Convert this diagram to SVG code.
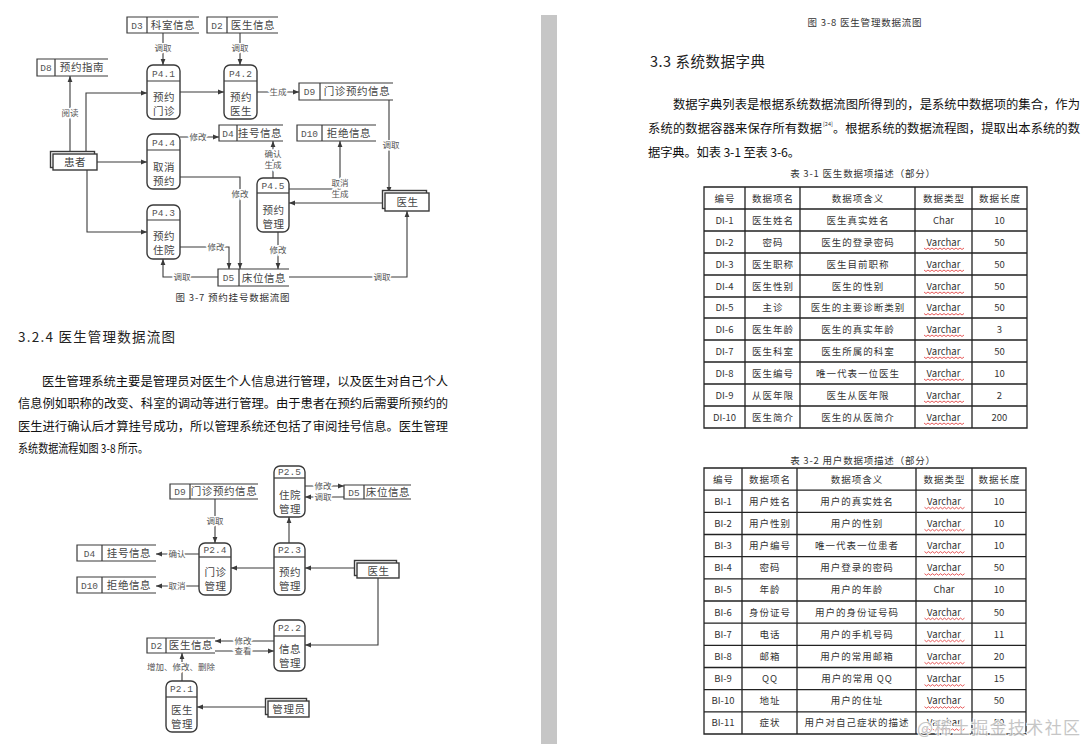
<svg xmlns="http://www.w3.org/2000/svg" width="1086" height="744" viewBox="0 0 1086 744">
<style>
text{font-family:"Noto Sans CJK SC","Noto Sans",sans-serif}
.mono{font-family:"Liberation Mono","DejaVu Sans Mono",monospace}
.st{fill:none;stroke:#3a3a3a;stroke-width:1.2}
.pr{fill:#fff;stroke:#3a3a3a;stroke-width:1.4}
.dv{stroke:#3a3a3a;stroke-width:1.2}
.ar{fill:none;stroke:#3a3a3a;stroke-width:1.1;marker-end:url(#ah)}
.lb{font-size:8.5px;fill:#555;text-anchor:middle;stroke:#fff;stroke-width:3px;paint-order:stroke}
.nm{font-size:10.5px;fill:#444;text-anchor:middle;letter-spacing:0.6px}
.id{font-family:"Liberation Mono","DejaVu Sans Mono",monospace;font-size:9.5px;fill:#555;text-anchor:middle}
.cap{font-size:9.5px;fill:#333;text-anchor:middle;letter-spacing:0.8px}
.body{font-size:12.3px;fill:#111}
.hd{font-size:13.5px;fill:#222}
.grid{fill:none;stroke:#222;stroke-width:1.3}
.tc{font-size:9.5px;fill:#333;text-anchor:middle;letter-spacing:1px}
.tm{font-family:"Liberation Mono","DejaVu Sans Mono",monospace;font-size:9.5px;fill:#333;text-anchor:middle}
</style>
<defs>
<marker id="ah" viewBox="0 0 8 8" refX="8" refY="4" markerWidth="6" markerHeight="6" orient="auto" markerUnits="userSpaceOnUse"><path d="M0,0.8 L8,4 L0,7.2z" fill="#3a3a3a"/></marker>
<path id="wv" d="M0,0 l2,1.5 l2,-1.5 l2,1.5 l2,-1.5 l2,1.5 l2,-1.5 l2,1.5 l2,-1.5 l2,1.5 l2,-1.5 l2,1.5 l2,-1.5 l2,1.5 l2,-1.5 l2,1.5 l2,-1.5 l2,1.5 l2,-1.5 l2,1.5 l2,-1.5" fill="none" stroke="#e03030" stroke-width="0.8"/>
</defs>
<rect width="1086" height="744" fill="#fff"/>
<rect x="541" y="15" width="16" height="729" fill="#c6c6c6"/>

<!-- ========== Diagram 3-7 ========== -->
<g id="connectors-37">
<path class="ar" d="M163,33V65"/>
<path class="ar" d="M240,33V65"/>
<path class="ar" d="M180,92H224"/>
<path class="ar" d="M257,92H299"/>
<path class="ar" d="M389,100V193"/>
<path class="ar" d="M70,151V76"/>
<path class="ar" d="M86,151V93H147"/>
<path class="ar" d="M97,162H147"/>
<path class="ar" d="M87,170V232H147"/>
<path class="ar" d="M180,137H219"/>
<path class="ar" d="M180,177H240V269"/>
<path class="ar" d="M180,247H229V269"/>
<path class="ar" d="M218,277H163V259"/>
<path class="ar" d="M289,277H407V211"/>
<path class="ar" d="M273,178V141"/>
<path class="ar" d="M289,189H340V141"/>
<path class="ar" d="M278,232V269"/>
<path class="ar" d="M385,203H289"/>
<text class="lb" x="163" y="51">调取</text>
<text class="lb" x="240" y="51">调取</text>
<text class="lb" x="278" y="95">生成</text>
<text class="lb" x="391" y="148">调取</text>
<text class="lb" x="70" y="116">阅读</text>
<text class="lb" x="198" y="140">修改</text>
<text class="lb" x="240" y="197">修改</text>
<text class="lb" x="216" y="250">修改</text>
<text class="lb" x="182" y="280">调取</text>
<text class="lb" x="382" y="280">调取</text>
<text class="lb" x="273" y="157">确认</text>
<text class="lb" x="273" y="168">生成</text>
<text class="lb" x="340" y="186">取消</text>
<text class="lb" x="340" y="197">生成</text>
<text class="lb" x="278" y="253">修改</text>
</g>

<g id="D3-37"><path class="st" d="M199,17H127V33H199M147,17V33"/><text class="id" x="137" y="29">D3</text><text class="nm" x="173" y="29">科室信息</text></g>
<g id="D2-37"><path class="st" d="M278,17H207V33H278M227,17V33"/><text class="id" x="217" y="29">D2</text><text class="nm" x="253" y="29">医生信息</text></g>
<g id="D8-37"><path class="st" d="M108,59H37V76H108M55,59V76"/><text class="id" x="46" y="71">D8</text><text class="nm" x="82" y="71">预约指南</text></g>
<g id="D9-37"><path class="st" d="M393,83H299V100H393M320,83V100"/><text class="id" x="309.5" y="95">D9</text><text class="nm" x="357" y="95">门诊预约信息</text></g>
<g id="D4-37"><path class="st" d="M283,125H219V141H283M237,125V141"/><text class="id" x="228" y="137">D4</text><text class="nm" x="260" y="137">挂号信息</text></g>
<g id="D10-37"><path class="st" d="M376,125H297V141H376M322,125V141"/><text class="id" x="309.5" y="137">D10</text><text class="nm" x="349" y="137">拒绝信息</text></g>
<g id="D5-37"><path class="st" d="M289,269H218V286H289M239,269V286"/><text class="id" x="228.5" y="281">D5</text><text class="nm" x="264" y="282">床位信息</text></g>

<g id="P4.1"><rect class="pr" x="147" y="65" width="33" height="54" rx="6"/><line class="dv" x1="147" y1="81" x2="180" y2="81"/><text class="id" x="163.5" y="77">P4.1</text><text class="nm" x="164" y="101">预约</text><text class="nm" x="164" y="115">门诊</text></g>
<g id="P4.2"><rect class="pr" x="224" y="65" width="33" height="54" rx="6"/><line class="dv" x1="224" y1="81" x2="257" y2="81"/><text class="id" x="240.5" y="77">P4.2</text><text class="nm" x="241" y="101">预约</text><text class="nm" x="241" y="115">医生</text></g>
<g id="P4.4"><rect class="pr" x="147" y="134" width="33" height="55" rx="6"/><line class="dv" x1="147" y1="150" x2="180" y2="150"/><text class="id" x="163.5" y="146">P4.4</text><text class="nm" x="164" y="171">取消</text><text class="nm" x="164" y="185">预约</text></g>
<g id="P4.3"><rect class="pr" x="147" y="205" width="33" height="54" rx="6"/><line class="dv" x1="147" y1="220" x2="180" y2="220"/><text class="id" x="163.5" y="216">P4.3</text><text class="nm" x="164" y="240">预约</text><text class="nm" x="164" y="254">住院</text></g>
<g id="P4.5"><rect class="pr" x="257" y="178" width="32" height="54" rx="6"/><line class="dv" x1="257" y1="193" x2="289" y2="193"/><text class="id" x="273" y="189">P4.5</text><text class="nm" x="273.5" y="214">预约</text><text class="nm" x="273.5" y="228">管理</text></g>

<g id="patient-37"><rect class="pr" x="50.5" y="151.5" width="44" height="16"/><rect class="pr" x="53" y="154" width="44" height="16"/><text class="nm" x="75" y="166">患者</text></g>
<g id="doctor-37"><rect class="pr" x="382.5" y="190.5" width="44" height="18"/><rect class="pr" x="385" y="193" width="44" height="18"/><text class="nm" x="407.5" y="206">医生</text></g>

<text class="cap" x="233" y="301">图 3-7 预约挂号数据流图</text>

<!-- left page text -->
<text class="hd" x="18" y="342" textLength="157">3.2.4 医生管理数据流图</text>
<text class="body" x="42" y="386" textLength="406">医生管理系统主要是管理员对医生个人信息进行管理，以及医生对自己个人</text>
<text class="body" x="18" y="408" textLength="430">信息例如职称的改变、科室的调动等进行管理。由于患者在预约后需要所预约的</text>
<text class="body" x="18" y="431" textLength="430">医生进行确认后才算挂号成功，所以管理系统还包括了审阅挂号信息。医生管理</text>
<text class="body" x="18" y="453" textLength="130" lengthAdjust="spacingAndGlyphs">系统数据流程如图 3-8 所示。</text>

<!-- ========== Diagram 3-8 ========== -->
<g id="connectors-38">
<path class="ar" d="M305,486H344"/>
<path class="ar" d="M344,497H305"/>
<path class="ar" d="M215,499V543"/>
<path class="ar" d="M199,554H156"/>
<path class="ar" d="M199,586H156"/>
<path class="ar" d="M274,568H231"/>
<path class="ar" d="M289,543V517"/>
<path class="ar" d="M357,568H305"/>
<path class="ar" d="M378,578V645H305"/>
<path class="ar" d="M274,641H215"/>
<path class="ar" d="M215,651H274"/>
<path class="ar" d="M182,681V653"/>
<path class="ar" d="M268,707H197"/>
<text class="lb" x="323" y="489">修改</text>
<text class="lb" x="323" y="500">调取</text>
<text class="lb" x="215" y="524">调取</text>
<text class="lb" x="177" y="557">确认</text>
<text class="lb" x="177" y="589">取消</text>
<text class="lb" x="243" y="644">修改</text>
<text class="lb" x="243" y="654">查看</text>
<text class="lb" x="181" y="670">增加、修改、删除</text>
</g>

<g id="D9-38"><path class="st" d="M258,484H170V499H258M190,484V499"/><text class="id" x="180" y="495">D9</text><text class="nm" x="224" y="495">门诊预约信息</text></g>
<g id="D5-38"><path class="st" d="M411,485H344V499H411M364,485V499"/><text class="id" x="354" y="496">D5</text><text class="nm" x="388" y="496">床位信息</text></g>
<g id="D4-38"><path class="st" d="M156,545H77V561H156M102,545V561"/><text class="id" x="89.5" y="557">D4</text><text class="nm" x="129" y="557">挂号信息</text></g>
<g id="D10-38"><path class="st" d="M156,577H77V593H156M102,577V593"/><text class="id" x="89.5" y="589">D10</text><text class="nm" x="129" y="589">拒绝信息</text></g>
<g id="D2-38"><path class="st" d="M215,638H147V653H215M166,638V653"/><text class="id" x="156.5" y="649">D2</text><text class="nm" x="191" y="649">医生信息</text></g>

<g id="P2.5"><rect class="pr" x="274" y="466" width="31" height="51" rx="6"/><line class="dv" x1="274" y1="478" x2="305" y2="478"/><text class="id" x="289.5" y="475">P2.5</text><text class="nm" x="290" y="499">住院</text><text class="nm" x="290" y="513">管理</text></g>
<g id="P2.4"><rect class="pr" x="199" y="543" width="32" height="52" rx="6"/><line class="dv" x1="199" y1="557" x2="231" y2="557"/><text class="id" x="215" y="553">P2.4</text><text class="nm" x="215.5" y="576">门诊</text><text class="nm" x="215.5" y="590">管理</text></g>
<g id="P2.3"><rect class="pr" x="274" y="543" width="31" height="52" rx="6"/><line class="dv" x1="274" y1="557" x2="305" y2="557"/><text class="id" x="289.5" y="553">P2.3</text><text class="nm" x="290" y="576">预约</text><text class="nm" x="290" y="590">管理</text></g>
<g id="P2.2"><rect class="pr" x="274" y="620" width="31" height="51" rx="6"/><line class="dv" x1="274" y1="636" x2="305" y2="636"/><text class="id" x="289.5" y="631">P2.2</text><text class="nm" x="290" y="653">信息</text><text class="nm" x="290" y="667">管理</text></g>
<g id="P2.1"><rect class="pr" x="166" y="681" width="31" height="51" rx="6"/><line class="dv" x1="166" y1="697" x2="197" y2="697"/><text class="id" x="181.5" y="692">P2.1</text><text class="nm" x="182" y="714">医生</text><text class="nm" x="182" y="728">管理</text></g>

<g id="doctor-38"><rect class="pr" x="354.5" y="560.5" width="42" height="15"/><rect class="pr" x="357" y="563" width="42" height="15"/><text class="nm" x="378.5" y="574.5">医生</text></g>
<g id="admin-38"><rect class="pr" x="265.5" y="698.5" width="41" height="16"/><rect class="pr" x="268" y="701" width="41" height="16"/><text class="nm" x="289" y="713">管理员</text></g>

<!-- ========== Right page ========== -->
<text class="cap" x="865" y="26">图 3-8 医生管理数据流图</text>
<text class="hd" x="650" y="67" textLength="115" style="font-size:14.5px">3.3 系统数据字典</text>
<text class="body" x="673" y="109" textLength="407">数据字典列表是根据系统数据流图所得到的，是系统中数据项的集合，作为</text>
<text class="body" x="648" y="133" textLength="174">系统的数据容器来保存所有数据</text>
<text x="823" y="126" style="font-size:5.5px;fill:#333">[24]</text>
<text class="body" x="833" y="133" textLength="247">。根据系统的数据流程图，提取出本系统的数</text>
<text class="body" x="648" y="157" textLength="152">据字典。如表 3-1 至表 3-6。</text>

<text class="cap" x="863" y="177">表 3-1 医生数据项描述（部分）</text>
<g id="table-3-1">
<path class="grid" d="M704,187H1027V428H704Z M704,209H1027 M704,231H1027 M704,253H1027 M704,275H1027 M704,297H1027 M704,318H1027 M704,340H1027 M704,362H1027 M704,384H1027 M704,406H1027 M745,187V428 M800,187V428 M915,187V428 M972,187V428"/>
<g class="tc">
<text x="725" y="201.5">编号</text><text x="773" y="201.5">数据项名</text><text x="858" y="201.5">数据项含义</text><text x="944" y="201.5">数据类型</text><text x="1000" y="201.5">数据长度</text>
<text x="773" y="223.5">医生姓名</text><text x="858" y="223.5">医生真实姓名</text>
<text x="773" y="245.5">密码</text><text x="858" y="245.5">医生的登录密码</text>
<text x="773" y="267.5">医生职称</text><text x="858" y="267.5">医生目前职称</text>
<text x="773" y="289.5">医生性别</text><text x="858" y="289.5">医生的性别</text>
<text x="773" y="311">主诊</text><text x="858" y="311">医生的主要诊断类别</text>
<text x="773" y="332.5">医生年龄</text><text x="858" y="332.5">医生的真实年龄</text>
<text x="773" y="354.5">医生科室</text><text x="858" y="354.5">医生所属的科室</text>
<text x="773" y="376.5">医生编号</text><text x="858" y="376.5">唯一代表一位医生</text>
<text x="773" y="398.5">从医年限</text><text x="858" y="398.5">医生从医年限</text>
<text x="773" y="420.5">医生简介</text><text x="858" y="420.5">医生的从医简介</text>
</g>
<g class="tm">
<text x="724.5" y="223.5">DI-1</text><text x="943.5" y="223.5">Char</text><text x="999.5" y="223.5">10</text>
<text x="724.5" y="245.5">DI-2</text><text x="943.5" y="245.5">Varchar</text><text x="999.5" y="245.5">50</text>
<text x="724.5" y="267.5">DI-3</text><text x="943.5" y="267.5">Varchar</text><text x="999.5" y="267.5">50</text>
<text x="724.5" y="289.5">DI-4</text><text x="943.5" y="289.5">Varchar</text><text x="999.5" y="289.5">50</text>
<text x="724.5" y="311">DI-5</text><text x="943.5" y="311">Varchar</text><text x="999.5" y="311">50</text>
<text x="724.5" y="332.5">DI-6</text><text x="943.5" y="332.5">Varchar</text><text x="999.5" y="332.5">3</text>
<text x="724.5" y="354.5">DI-7</text><text x="943.5" y="354.5">Varchar</text><text x="999.5" y="354.5">50</text>
<text x="724.5" y="376.5">DI-8</text><text x="943.5" y="376.5">Varchar</text><text x="999.5" y="376.5">10</text>
<text x="724.5" y="398.5">DI-9</text><text x="943.5" y="398.5">Varchar</text><text x="999.5" y="398.5">2</text>
<text x="724.5" y="420.5">DI-10</text><text x="943.5" y="420.5">Varchar</text><text x="999.5" y="420.5">200</text>
</g>
<use href="#wv" x="924" y="248"/><use href="#wv" x="924" y="270"/><use href="#wv" x="924" y="292"/><use href="#wv" x="924" y="313.5"/><use href="#wv" x="924" y="335"/><use href="#wv" x="924" y="357"/><use href="#wv" x="924" y="379"/><use href="#wv" x="924" y="401"/><use href="#wv" x="924" y="423"/>
</g>

<text class="cap" x="863" y="464">表 3-2 用户数据项描述（部分）</text>
<g id="table-3-2">
<path class="grid" d="M704,468H1026V734H704Z M704,490.2H1026 M704,512.3H1026 M704,534.5H1026 M704,556.7H1026 M704,578.8H1026 M704,601H1026 M704,623.2H1026 M704,645.3H1026 M704,667.5H1026 M704,689.7H1026 M704,711.8H1026 M742,468V734 M797,468V734 M916,468V734 M972,468V734"/>
<g class="tc">
<text x="723.5" y="482.6">编号</text><text x="770" y="482.6">数据项名</text><text x="857" y="482.6">数据项含义</text><text x="944.5" y="482.6">数据类型</text><text x="999.5" y="482.6">数据长度</text>
<text x="770" y="504.8">用户姓名</text><text x="857" y="504.8">用户的真实姓名</text>
<text x="770" y="526.9">用户性别</text><text x="857" y="526.9">用户的性别</text>
<text x="770" y="549.1">用户编号</text><text x="857" y="549.1">唯一代表一位患者</text>
<text x="770" y="571.2">密码</text><text x="857" y="571.2">用户登录的密码</text>
<text x="770" y="593.4">年龄</text><text x="857" y="593.4">用户的年龄</text>
<text x="770" y="615.6">身份证号</text><text x="857" y="615.6">用户的身份证号码</text>
<text x="770" y="637.7">电话</text><text x="857" y="637.7">用户的手机号码</text>
<text x="770" y="659.9">邮箱</text><text x="857" y="659.9">用户的常用邮箱</text>
<text x="770" y="682.1">QQ</text><text x="857" y="682.1">用户的常用 QQ</text>
<text x="770" y="704.2">地址</text><text x="857" y="704.2">用户的住址</text>
<text x="770" y="726.4">症状</text><text x="857" y="726.4">用户对自己症状的描述</text>
</g>
<g class="tm">
<text x="723" y="504.8">BI-1</text><text x="944" y="504.8">Varchar</text><text x="999" y="504.8">10</text>
<text x="723" y="526.9">BI-2</text><text x="944" y="526.9">Varchar</text><text x="999" y="526.9">10</text>
<text x="723" y="549.1">BI-3</text><text x="944" y="549.1">Varchar</text><text x="999" y="549.1">10</text>
<text x="723" y="571.2">BI-4</text><text x="944" y="571.2">Varchar</text><text x="999" y="571.2">50</text>
<text x="723" y="593.4">BI-5</text><text x="944" y="593.4">Char</text><text x="999" y="593.4">10</text>
<text x="723" y="615.6">BI-6</text><text x="944" y="615.6">Varchar</text><text x="999" y="615.6">50</text>
<text x="723" y="637.7">BI-7</text><text x="944" y="637.7">Varchar</text><text x="999" y="637.7">11</text>
<text x="723" y="659.9">BI-8</text><text x="944" y="659.9">Varchar</text><text x="999" y="659.9">20</text>
<text x="723" y="682.1">BI-9</text><text x="944" y="682.1">Varchar</text><text x="999" y="682.1">15</text>
<text x="723" y="704.2">BI-10</text><text x="944" y="704.2">Varchar</text><text x="999" y="704.2">50</text>
<text x="723" y="726.4">BI-11</text><text x="944" y="726.4">Varchar</text><text x="999" y="726.4">50</text>
</g>
<use href="#wv" x="924.5" y="507.3"/><use href="#wv" x="924.5" y="529.4"/><use href="#wv" x="924.5" y="551.6"/><use href="#wv" x="924.5" y="573.7"/><use href="#wv" x="924.5" y="618.1"/><use href="#wv" x="924.5" y="640.2"/><use href="#wv" x="924.5" y="662.4"/><use href="#wv" x="924.5" y="684.6"/><use href="#wv" x="924.5" y="706.7"/><use href="#wv" x="924.5" y="728.9"/>
</g>

<text x="917" y="734" textLength="163" style="font-size:17px;fill:#bdbdbd;stroke:#fff;stroke-width:2px;paint-order:stroke;opacity:0.85">@稀土掘金技术社区</text>
</svg>
